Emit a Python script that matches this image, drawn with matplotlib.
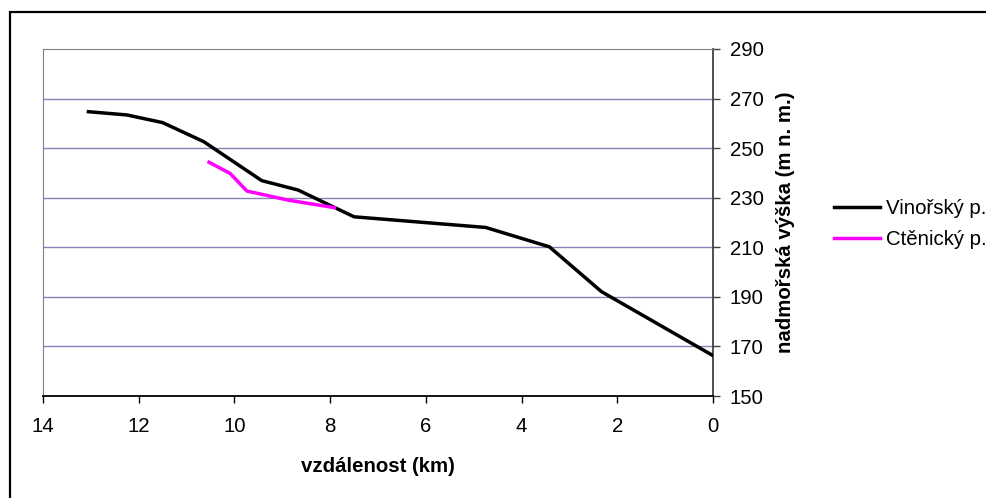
import matplotlib.pyplot as plt
from matplotlib.patches import Rectangle

# data (distance km, altitude m)
vinor_km = [13.05, 12.25, 11.5, 10.64, 9.43, 8.67, 7.5, 4.75, 3.42, 2.33, 0.0]
vinor_alt = [264.7, 263.4, 260.3, 252.6, 236.9, 233.1, 222.3, 218.0, 210.2, 192.1, 166.3]
ctenic_km = [10.53, 10.09, 9.74, 8.87, 7.91]
ctenic_alt = [244.3, 239.8, 232.7, 229.0, 226.0]

x_ticks = [14, 12, 10, 8, 6, 4, 2, 0]
y_ticks = [150, 170, 190, 210, 230, 250, 270, 290]

plt.rcParams['font.family'] = ['Liberation Sans', 'DejaVu Sans']
plt.rcParams['font.size'] = 14.7

fig = plt.figure(figsize=(9.86, 4.98), dpi=100)
ax = fig.add_axes([43 / 986, 1 - 396 / 498, 670 / 986, 347 / 498])

# outer chart border (cut off at right and bottom)
fig.patches.append(Rectangle((10 / 986, -0.1), 1.2, 1 - 12 / 498 + 0.1,
                             transform=fig.transFigure, fill=False,
                             edgecolor='black', linewidth=1.6))

for y in y_ticks[1:-1]:
    ax.axhline(y, color='#8484b8', linewidth=1.0, zorder=1)

ax.plot(vinor_km, vinor_alt, color='black', linewidth=2.5, label='Vinořský p.', zorder=3)
ax.plot(ctenic_km, ctenic_alt, color='#ff00ff', linewidth=2.5, label='Ctěnický p.', zorder=3)

ax.set_xlim(14, 0)
ax.set_ylim(150, 290)
ax.set_xticks(x_ticks)
ax.set_yticks(y_ticks)
ax.yaxis.tick_right()
ax.yaxis.set_label_position('right')
ax.tick_params(axis='x', direction='out', length=5, width=1, color='black', pad=10)
ax.tick_params(axis='y', direction='out', length=5, width=1, color='#404040', pad=7)

ax.spines['top'].set_color('#808080')
ax.spines['left'].set_color('#808080')
ax.spines['bottom'].set_color('black')
ax.spines['bottom'].set_linewidth(1.3)
ax.spines['right'].set_color('#404040')
ax.spines['right'].set_linewidth(1.3)

ax.set_xlabel('vzdálenost (km)', fontweight='bold', labelpad=15)
ax.set_ylabel('nadmořská výška (m n. m.)', fontweight='bold', labelpad=9)

fig.legend(loc='center left', bbox_to_anchor=(834 / 986, 1 - 224 / 498),
           frameon=False, handlelength=2.25, handletextpad=0.3, labelspacing=0.6,
           borderpad=0, borderaxespad=0, fontsize=14.7)

fig.savefig('out.png', dpi=100)
